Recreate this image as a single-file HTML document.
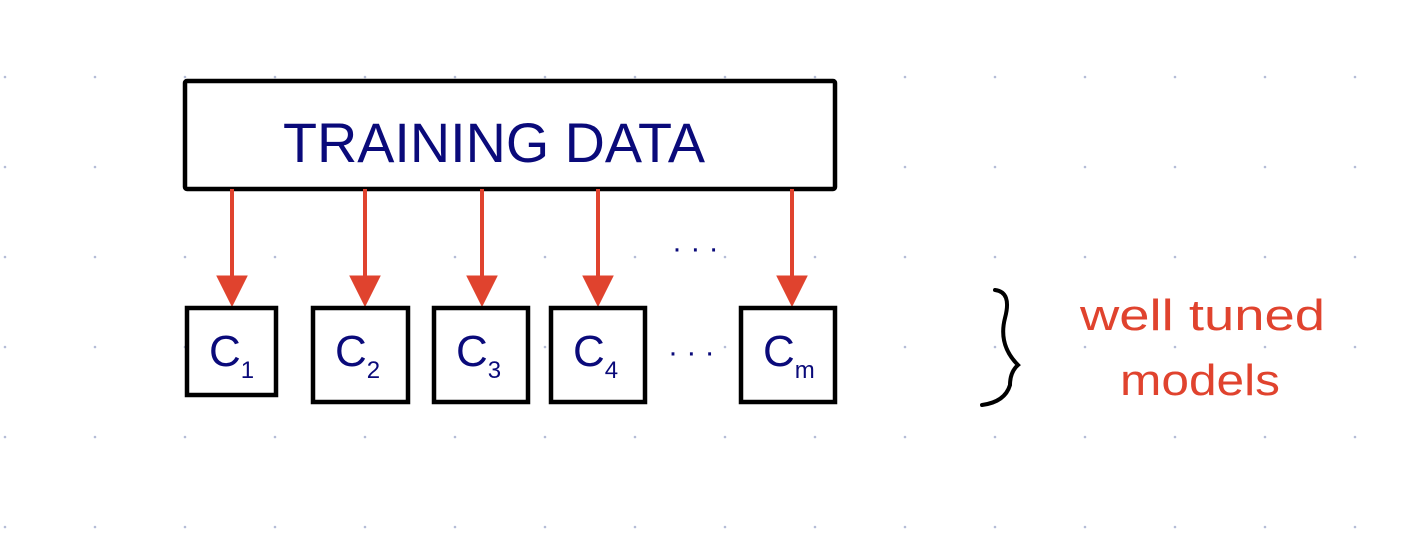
<!DOCTYPE html>
<html><head><meta charset="utf-8"><style>body{margin:0;background:#fff}svg{display:block}</style></head>
<body>
<svg width="1428" height="554" viewBox="0 0 1428 554" xmlns="http://www.w3.org/2000/svg">
<g id="grid" fill="#b4bcd8"></g>
<rect x="185" y="81" width="650" height="108" fill="#fff" stroke="#000" stroke-width="4.5" rx="2"/>
<text x="283" y="162" font-family="Liberation Sans, sans-serif" font-size="56" fill="#0a0a7a" textLength="422" lengthAdjust="spacingAndGlyphs">TRAINING DATA</text>
<g id="arrows" fill="#e0432e" stroke="#e0432e"></g>
<g id="boxes"></g>
<text x="672" y="258" font-family="Liberation Sans, sans-serif" font-size="30" fill="#0a0a7a">·  ·   ·</text>
<text x="668" y="362" font-family="Liberation Sans, sans-serif" font-size="30" fill="#0a0a7a">· · ·</text>
<path d="M995 290 Q1012 292 1005 318 Q998 345 1018 365 Q1010 372 1010 385 Q1005 402 982 405" fill="none" stroke="#000" stroke-width="4" stroke-linecap="round"/>
<text x="1080" y="330" font-family="Liberation Sans, sans-serif" font-size="44" fill="#e0432e" textLength="245" lengthAdjust="spacingAndGlyphs">well tuned</text>
<text x="1120" y="395" font-family="Liberation Sans, sans-serif" font-size="44" fill="#e0432e" textLength="160" lengthAdjust="spacingAndGlyphs">models</text>
<script>
const ns='http://www.w3.org/2000/svg';
const g=document.getElementById('grid');
for(let x=5;x<1428;x+=90)for(let y=77;y<554;y+=90){const c=document.createElementNS(ns,'circle');c.setAttribute('cx',x);c.setAttribute('cy',y);c.setAttribute('r',1.3);


g.appendChild(c);}
const arrowsX=[232,365,482,598,792];
const ag=document.getElementById('arrows');
arrowsX.forEach(x=>{const l=document.createElementNS(ns,'line');l.setAttribute('x1',x);l.setAttribute('x2',x);l.setAttribute('y1',189);l.setAttribute('y2',285);l.setAttribute('stroke-width',4);


ag.appendChild(l);
const p=document.createElementNS(ns,'polygon');p.setAttribute('points',`${x-15},276 ${x+15},276 ${x},306`);p.setAttribute('stroke-width',1);


ag.appendChild(p);});
const boxes=[[187,308,89,87,'1'],[313,308,95,94,'2'],[434,308,94,94,'3'],[551,308,94,94,'4'],[741,308,94,94,'m']];
const bg=document.getElementById('boxes');
boxes.forEach(b=>{const r=document.createElementNS(ns,'rect');r.setAttribute('x',b[0]);r.setAttribute('y',b[1]);r.setAttribute('width',b[2]);r.setAttribute('height',b[3]);r.setAttribute('fill','#fff');r.setAttribute('stroke','#000');r.setAttribute('stroke-width',4.5);


bg.appendChild(r);
const t=document.createElementNS(ns,'text');t.setAttribute('x',b[0]+22);t.setAttribute('y',b[1]+58);t.setAttribute('font-family','Liberation Sans, sans-serif');t.setAttribute('font-size','44');t.setAttribute('fill','#0a0a7a');


t.textContent='C';
const s=document.createElementNS(ns,'tspan');s.setAttribute('font-size','24');s.setAttribute('dy','12');s.textContent=b[4];


t.appendChild(s);
bg.appendChild(t);});
</script>
</svg>
</body></html>
